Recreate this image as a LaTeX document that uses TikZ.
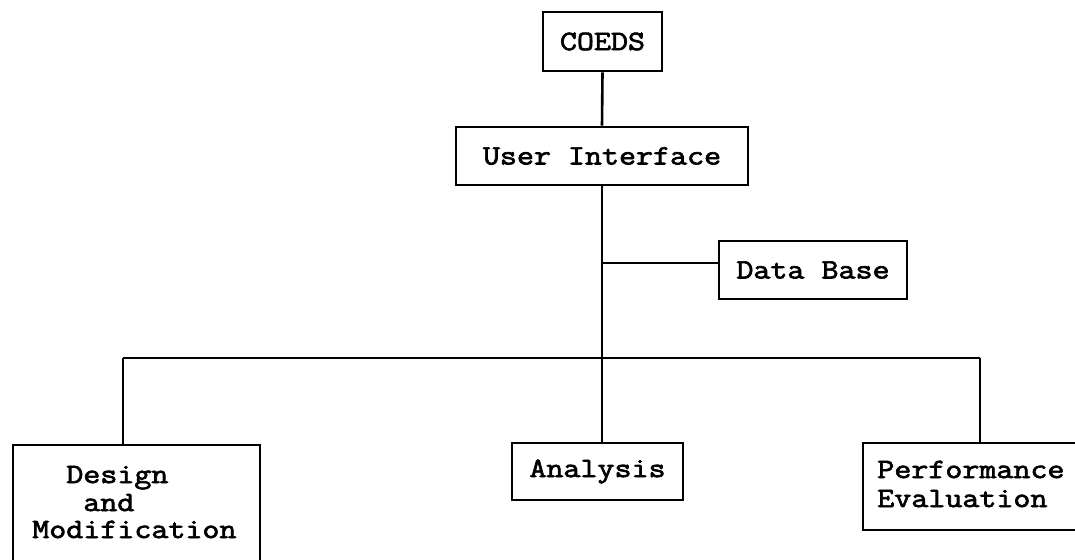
\documentclass[tikz,border=0pt]{standalone}
\usepackage{fontspec}
\newfontfamily\typew[FakeStretch=1.18, FakeBold=2.5]{Latin Modern Mono}
\begin{document}
\begin{tikzpicture}[x=1pt,y=-1pt,
  line width=2.6pt,
  txt/.style={font=\fontsize{28}{28}\selectfont\typew, inner sep=0pt},
  box/.style={draw, rectangle, inner sep=0pt, font=\fontsize{28}{28}\selectfont\typew}]
\useasboundingbox (0,0) rectangle (1075,559);
\clip (0,0) rectangle (1075,559);

% boxes
\node[box, minimum width=119pt, minimum height=59pt] (coeds) at (602.5,41.5) {COEDS};
\node[box, minimum width=292pt, minimum height=58pt] (ui) at (602,156) {User Interface};
\node[box, minimum width=188pt, minimum height=58pt] (db) at (813,270) {Data Base};
\node[box, minimum width=171pt, minimum height=57pt] (an) at (597.5,471.5) {Analysis};
\node[box, minimum width=247pt, minimum height=125pt] (des) at (136.5,507.5) {};
\node[box, minimum width=227pt, minimum height=87pt] (perf) at (976.5,486.5) {};

% multi-line labels
\node[txt, anchor=base west] (des1) at (31,483) {\phantom{xx}Design};
\node[txt, anchor=base west] (des2) at (31,511) {\phantom{xxx}and};
\node[txt, anchor=base west] (des3) at (31,538) {Modification};
\node[txt, anchor=base west] (perf1) at (876,478) {Performance};
\node[txt, anchor=base west] (perf2) at (876,507) {Evaluation};

% junctions
\coordinate (jd) at (602,263);
\coordinate (jl) at (123,358);
\coordinate (jr) at (980,358);

% connectors
\draw (coeds.south) -- (ui.north);
\draw (ui.south) -- (ui.south |- an.north);
\draw (jd) -- (jd -| db.west);
\draw (jl) -- (jr);
\draw (jl) -- (jl |- des.north);
\draw (jr) -- (jr |- perf.north);
\end{tikzpicture}
\end{document}
